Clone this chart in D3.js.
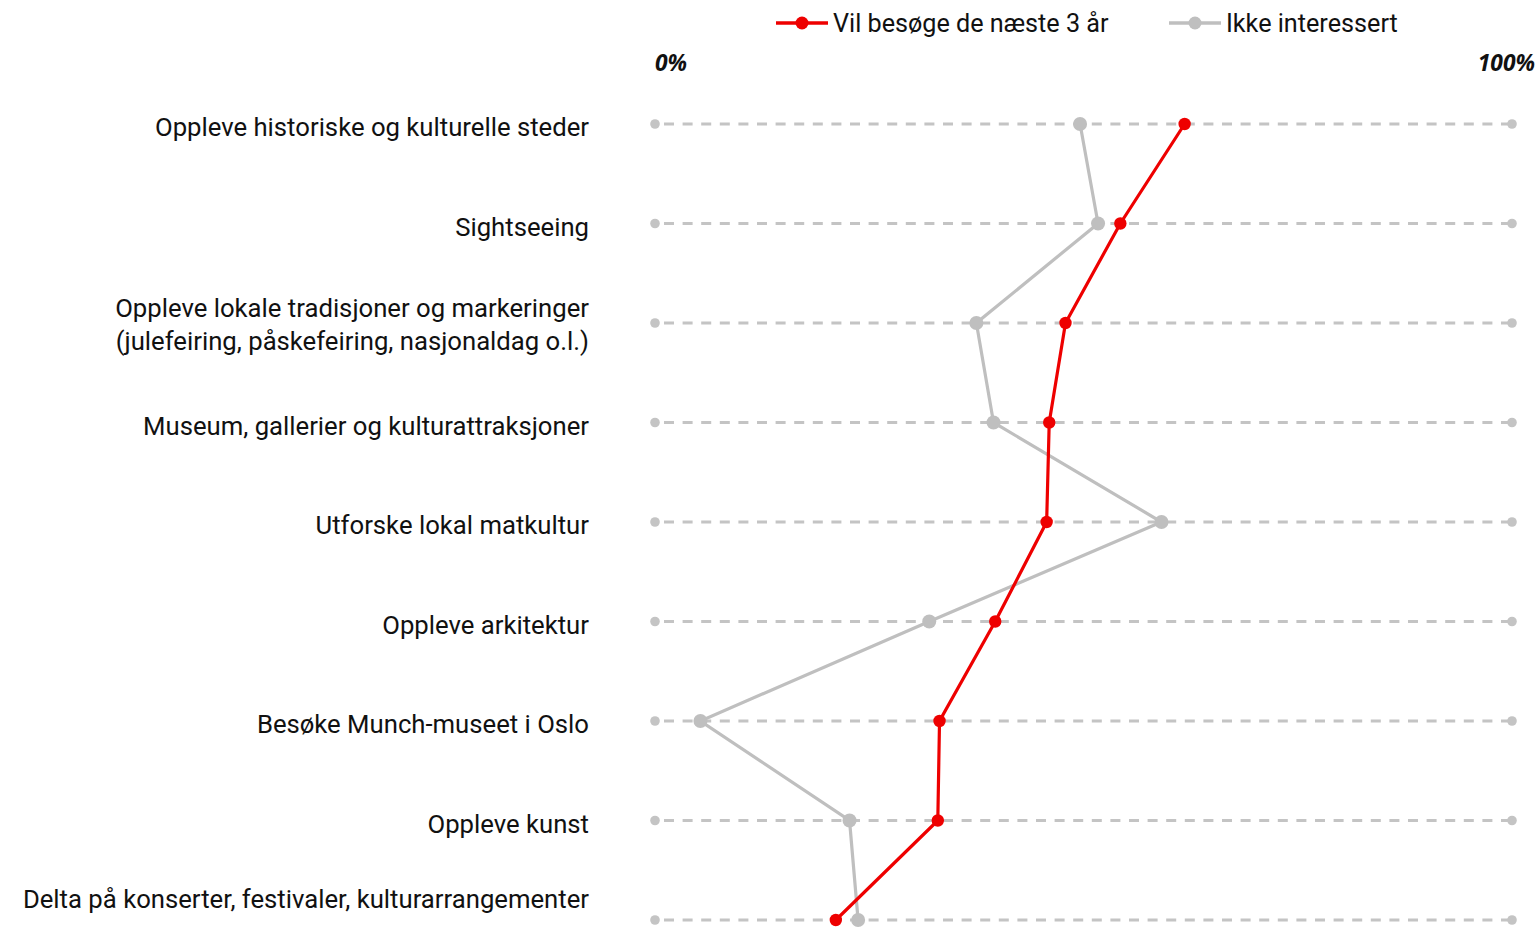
<!DOCTYPE html>
<html><head><meta charset="utf-8">
<script src="https://cdn.jsdelivr.net/npm/d3@7"></script>
<style>body{margin:0;background:#fff}svg{display:block}</style>
</head><body>
<script>
const categories = [
  ["Oppleve historiske og kulturelle steder"],
  ["Sightseeing"],
  ["Oppleve lokale tradisjoner og markeringer","(julefeiring, påskefeiring, nasjonaldag o.l.)"],
  ["Museum, gallerier og kulturattraksjoner"],
  ["Utforske lokal matkultur"],
  ["Oppleve arkitektur"],
  ["Besøke Munch-museet i Oslo"],
  ["Oppleve kunst"],
  ["Delta på konserter, festivaler, kulturarrangementer"]
];
const visitValues = [61.8, 54.3, 47.9, 46.0, 45.7, 39.7, 33.2, 33.0, 21.1];
const notInterestedValues = [49.6, 51.7, 37.5, 39.5, 59.1, 32.0, 5.3, 22.7, 23.7];
const seriesNames = ["Vil besøge de næste 3 år", "Ikke interessert"];
const seriesColors = ["#ee0000", "#bfbfbf"];
const axisLabels = ["0%", "100%"];

const W = 1540, H = 929;
const svg = d3.select("body").append("svg").attr("width", W).attr("height", H);
const font = "Roboto, 'Noto Sans', sans-serif";

const x = d3.scaleLinear().domain([0, 100]).range([655, 1512]);
const y = d3.scalePoint().domain(d3.range(categories.length)).range([124, 920]);

// grid lines
const rows = svg.append("g");
categories.forEach((c, i) => {
  rows.append("line").attr("x1", x(0)).attr("x2", x(100)).attr("y1", y(i)).attr("y2", y(i))
    .attr("stroke", "#c4c4c4").attr("stroke-width", 3).attr("stroke-dasharray", "10,8.6")
    .attr("stroke-dashoffset", -9);
  [0, 100].forEach(v => rows.append("circle").attr("cx", x(v)).attr("cy", y(i)).attr("r", 4.8).attr("fill", "#c4c4c4"));
});

// labels
categories.forEach((c, i) => {
  let offs;
  if (c.length === 2) offs = [-6, 27];
  else if (i === categories.length - 1) offs = [-12];
  else offs = [12];
  c.forEach((t, k) => {
    svg.append("text").attr("x", 589).attr("y", y(i) + offs[k]).attr("text-anchor", "end")
      .attr("font-family", font).attr("font-size", 25.7).attr("fill", "#111").text(t);
  });
});

// axis labels
const axFont = "'Open Sans', sans-serif";
svg.append("text").attr("x", x(0)).attr("y", 71).attr("font-family", axFont)
  .attr("font-size", 22.8).attr("font-weight", 700).attr("font-style", "italic").attr("fill", "#111").text(axisLabels[0]);
svg.append("text").attr("x", 1535).attr("y", 71).attr("text-anchor", "end").attr("font-family", axFont)
  .attr("font-size", 22.8).attr("font-weight", 700).attr("font-style", "italic").attr("fill", "#111").text(axisLabels[1]);

// series
const line = d3.line().x(d => x(d[0])).y(d => y(d[1]));
[[notInterestedValues, 1, 7], [visitValues, 0, 6.2]].forEach(([vals, si, r]) => {
  const pts = vals.map((v, i) => [v, i]);
  svg.append("path").attr("d", line(pts)).attr("fill", "none").attr("stroke", seriesColors[si]).attr("stroke-width", 3.2);
  svg.selectAll(null).data(pts).enter().append("circle").attr("cx", d => x(d[0])).attr("cy", d => y(d[1]))
    .attr("r", r).attr("fill", seriesColors[si]);
});

// legend
const legendPos = [776, 1169];
seriesNames.forEach((n, i) => {
  const g = svg.append("g").attr("transform", `translate(${legendPos[i]},23)`);
  g.append("line").attr("x1", 0).attr("x2", 52).attr("stroke", seriesColors[i]).attr("stroke-width", 3.5);
  g.append("circle").attr("cx", 26).attr("r", 6.5).attr("fill", seriesColors[i]);
  g.append("text").attr("x", 57).attr("y", 8.5).attr("font-family", font).attr("font-size", 25.2).attr("fill", "#111").text(n);
});
</script>
</body></html>
